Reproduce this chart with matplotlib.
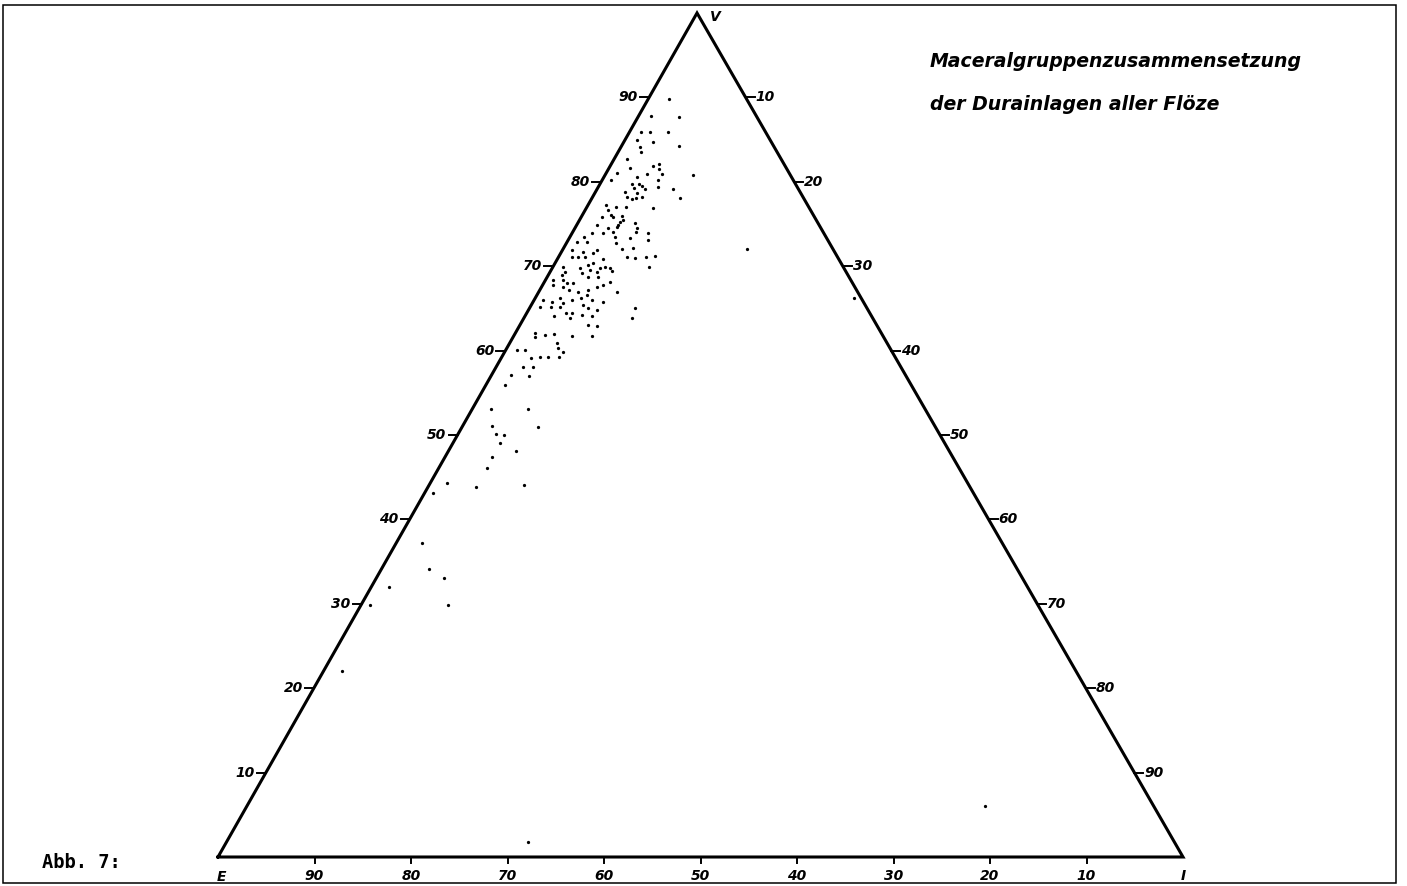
import numpy as np
import matplotlib.pyplot as plt
from matplotlib.patches import Rectangle

# maceral group composition of the durain layers (vol.-%), E = 100 - V - I
vitrinite = [
    89.8, 87.8, 87.7, 85.9, 85.9, 85.9, 85.0, 84.7, 84.1, 83.5, 84.2, 82.7, 81.6,
    82.1, 81.9, 81.5, 80.9, 80.9, 80.2, 79.4, 80.8, 81.0, 80.2, 80.6, 79.7, 79.7,
    79.3, 79.5, 79.1, 78.7, 78.2, 78.8, 78.2, 78.0, 78.1, 79.1, 78.1,
    77.3, 76.7, 77.0, 77.0, 75.8, 76.1, 75.8, 75.9, 75.5, 75.2, 74.9, 74.6, 75.1,
    74.5, 74.1, 74.9, 74.5, 74.1, 73.5, 72.7, 72.0, 76.9, 73.9, 73.1, 73.3, 73.9,
    73.9, 73.5, 72.9, 72.9, 71.9, 72.2, 71.9, 71.1, 71.1, 71.7, 71.1, 71.6, 70.4,
    70.9, 69.9, 69.8, 69.4, 69.8, 71.1, 71.0, 71.1, 71.2, 69.9, 69.9, 69.3, 69.0,
    70.1, 69.5, 69.8, 69.2, 69.3, 68.7, 68.7, 68.4, 67.8, 68.4, 68.0, 67.5, 68.0,
    67.2, 66.9, 67.2, 66.6, 67.5, 67.8, 68.1, 66.9, 66.0, 65.8, 66.2, 65.6, 65.2,
    65.2, 65.2, 66.0, 66.2, 66.0, 65.8, 65.4, 65.0, 64.8, 64.1, 64.5, 64.5, 63.9,
    64.2, 64.1, 65.0, 63.9, 63.0, 62.9, 61.7, 61.7, 62.1, 61.6, 61.8, 62.0, 60.9,
    60.3, 59.8, 60.1, 60.1, 59.1, 59.2, 59.2, 59.2,
    58.1, 58.1, 57.1, 57.0, 55.9, 53.1, 53.1, 51.1, 50.1, 50.0, 49.1, 50.9, 48.1,
    47.4, 46.1, 44.3, 43.1, 43.8, 44.1, 37.2, 34.1, 33.1, 32.0, 29.9, 29.9, 22.0,
    72.0, 66.2, 6.0, 1.8,
]
inertinite = [
    2.2, 1.3, 4.2, 1.2, 2.1, 4.0, 1.2, 3.0, 2.0, 2.4, 6.0, 1.3, 2.2,
    4.9, 4.4, 5.2, 4.3, 5.9, 5.8, 6.2, 9.1, 1.1, 0.9, 3.4, 3.3, 4.1,
    3.7, 4.5, 5.0, 4.4, 5.1, 3.1, 3.6, 4.2, 4.5, 7.9, 9.1,
    1.8, 2.3, 3.0, 4.1, 2.2, 2.9, 3.3, 4.2, 4.5, 4.3, 4.3, 4.3, 5.9,
    6.4, 6.5, 2.1, 3.4, 4.1, 4.7, 5.2, 6.1, 6.9, 7.9, 8.3, 6.3, 3.2,
    2.1, 1.4, 1.0, 2.1, 3.6, 7.2, 1.0, 2.0, 1.4, 2.2, 2.7, 3.3, 3.9,
    4.7, 5.4, 6.0, 6.4, 4.9, 7.1, 8.0, 9.1, 9.9, 10.0, 1.1, 1.6, 1.4,
    3.5, 4.0, 2.9, 3.4, 4.9, 5.3, 4.2, 0.8, 1.1, 1.8, 2.4, 2.2, 3.0,
    3.0, 4.1, 5.0, 5.2, 5.8, 6.2, 6.8, 8.1, 0.9, 2.0, 2.6, 3.2, 1.0,
    2.1, 3.1, 3.9, 4.8, 6.0, 7.2, 5.4, 6.1, 7.1, 3.0, 4.0, 4.7, 4.8,
    5.8, 6.9, 10.9, 11.2, 7.1, 8.1, 8.1, 6.1, 2.0, 2.3, 3.2, 4.0, 4.9,
    5.3, 6.1, 1.2, 2.0, 3.1, 4.0, 4.8, 5.9,
    2.8, 3.8, 2.0, 3.9, 2.0, 1.9, 5.8, 3.0, 3.9, 4.8, 4.9, 7.9, 7.0,
    4.9, 5.0, 1.7, 0.9, 5.0, 9.8, 2.7, 4.9, 7.0, 1.8, 0.9, 9.0, 1.9,
    19.1, 33.0, 76.5, 31.2,
]

scale_ticks = [10, 20, 30, 40, 50, 60, 70, 80, 90]

APEX_X = 0.4964  # horizontal position of the V corner (E = 0, I = 1)


def tern(v, i):
    v = np.asarray(v) / 100.0
    i = np.asarray(i) / 100.0
    return i + APEX_X * v, v


FONT = dict(family="DejaVu Sans", weight="bold", style="italic")

fig = plt.figure(figsize=(14.07, 8.86), dpi=100)
ax = fig.add_axes([0, 0, 1, 1])
ax.set_xlim(-218 / 965, 1189 / 965)
ax.set_ylim(-29 / 844, 857 / 844)
ax.axis("off")

# outer frame
fig.patches.append(Rectangle((3 / 1407, 3 / 886), 1393 / 1407, 878 / 886,
                             transform=fig.transFigure, fill=False,
                             edgecolor="black", linewidth=1.1))

# triangle
ax.plot([0, 1, APEX_X, 0], [0, 0, 1, 0], color="black", lw=2.2,
        solid_joinstyle="miter", zorder=2)

tl = 9 / 965   # tick length (horizontal)
tv = 6 / 844   # tick length (vertical)
for k in scale_ticks:
    f = k / 100.0
    # left side: V scale
    xl, yl = APEX_X * f, f
    ax.plot([xl - tl, xl], [yl, yl], color="black", lw=1.4)
    ax.text(xl - 11 / 965, yl, str(k), ha="right", va="center", fontsize=10, **FONT)
    # right side: I scale
    xr, yr = f + APEX_X * (1 - f), 1 - f
    ax.plot([xr, xr + tl], [yr, yr], color="black", lw=1.4)
    ax.text(xr + 10 / 965, yr, str(k), ha="left", va="center", fontsize=10, **FONT)
    # base: E scale
    xb = 1 - f
    ax.plot([xb, xb], [0, -tv], color="black", lw=1.4)
    ax.text(xb, -19 / 844, str(k), ha="center", va="center", fontsize=10, **FONT)

ax.text(0.515, 0.995, "V", ha="center", va="center", fontsize=10, **FONT)
ax.text(0.004, -20 / 844, "E", ha="center", va="center", fontsize=10, **FONT)
ax.text(1.0, -19 / 844, "I", ha="center", va="center", fontsize=10, **FONT)

x, y = tern(vitrinite, inertinite)
ax.scatter(x, y, s=5.5, color="black", linewidths=0, zorder=3)

ax.text(712 / 965, 0.942, "Maceralgruppenzusammensetzung", ha="left", va="center",
        fontsize=13.6, **FONT)
ax.text(712 / 965, 0.891, "der Durainlagen aller Flöze", ha="left", va="center",
        fontsize=13.6, **FONT)

ax.text(-176 / 965, -5 / 844, "Abb. 7:", ha="left", va="center",
        fontsize=13.5, weight="bold", family="DejaVu Sans Mono")

fig.savefig("out.png", dpi=100)
